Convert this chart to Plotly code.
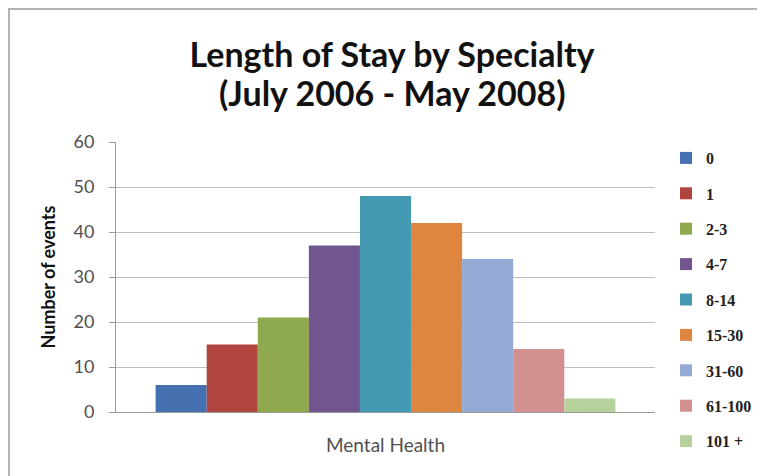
import plotly.graph_objects as go

categories = ["Mental Health"]
series_names = ["0", "1", "2-3", "4-7", "8-14", "15-30", "31-60", "61-100", "101 +"]
series_values = [6, 15, 21, 37, 48, 42, 34, 14, 3]
series_colors = ["#4470B0", "#B0443F", "#8FAA4E", "#71558F", "#4499B3",
                 "#DE8540", "#94AAD4", "#D39090", "#B6D19B"]
y_ticks = [0, 10, 20, 30, 40, 50, 60]
title_line1 = "Length of Stay by Specialty"
title_line2 = "(July 2006 - May 2008)"

fig = go.Figure()
for name, val, col in zip(series_names, series_values, series_colors):
    fig.add_trace(go.Bar(
        x=categories, y=[val], name=name, legendgroup=name,
        marker=dict(color=col, line=dict(width=0)),
    ))

# the page body adds an 8px offset; figure coordinates = page - 8
W, H = 757, 468
L, T = 108, 134
R = W - 647
B = H - 404
pw, ph = W - L - R, H - T - B

title_font = dict(family="Lato", size=34, color="#111111", weight="bold")

fig.update_layout(
    width=W, height=H,
    margin=dict(l=L, r=R, t=T, b=B, pad=0, autoexpand=False),
    paper_bgcolor="white", plot_bgcolor="white",
    barmode="group", bargap=0.147, bargroupgap=0,
    title=dict(
        text=title_line1,
        font=title_font,
        x=384 / W, xanchor="center", xref="container",
        y=1 - 47 / H, yanchor="middle", yref="container",
    ),
    annotations=[dict(
        text=title_line2, font=title_font, showarrow=False,
        xref="paper", yref="paper",
        x=(384 - L) / pw, xanchor="center",
        y=1 + (T - 84) / ph, yanchor="middle",
    )],
    xaxis=dict(
        showline=True, linecolor="#9a9a9a", linewidth=1,
        ticks="", showgrid=False, automargin=False,
        tickfont=dict(family="Lato", size=19, color="#505050"),
        ticklabelstandoff=16,
    ),
    yaxis=dict(
        range=[0, 60], tickvals=y_ticks, automargin=False,
        showline=True, linecolor="#9a9a9a", linewidth=1,
        ticks="outside", ticklen=6, tickcolor="#9a9a9a",
        showgrid=True, gridcolor="#bdbdbd", gridwidth=1,
        zeroline=False,
        tickfont=dict(family="Lato", size=18, color="#505050"),
        ticklabelstandoff=11,
        title=dict(text="<b>Number of events</b>",
                   font=dict(family="Lato", size=18, color="#111111"),
                   standoff=13),
    ),
    legend=dict(
        x=(658 - L) / pw, xanchor="left",
        y=1 - (133 - T) / ph, yanchor="top",
        traceorder="grouped", tracegroupgap=11.6, maxheight=400,
        font=dict(family="Liberation Serif", size=16, color="#222222", weight="bold"),
        bgcolor="rgba(0,0,0,0)",
    ),
    shapes=[dict(
        type="rect", xref="paper", yref="paper",
        x0=(1 - L) / pw, x1=1.5, y0=-0.5, y1=(T + ph - 1) / ph,
        line=dict(color="#b4b4b4", width=2), fillcolor="rgba(0,0,0,0)",
        layer="below",
    )],
    showlegend=True,
)

fig.write_html("out.html")
